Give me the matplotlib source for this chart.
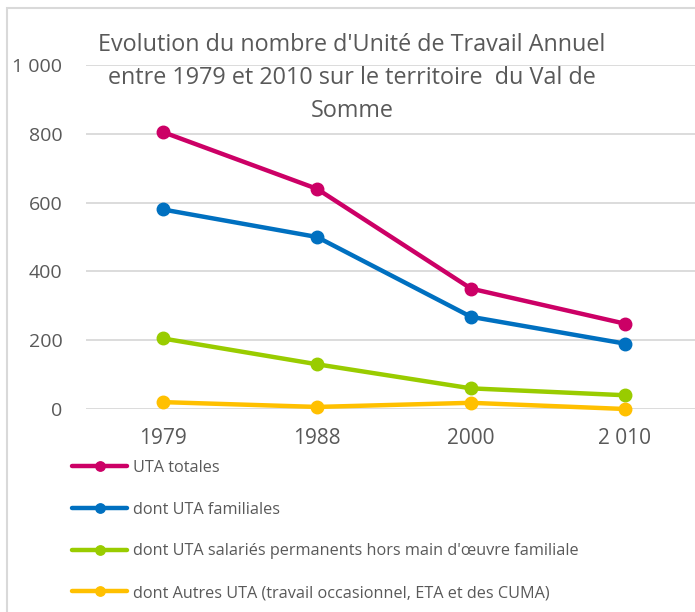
import matplotlib.pyplot as plt
from matplotlib.patches import Rectangle
from matplotlib.ticker import FuncFormatter

plt.rcParams['font.family'] = ['Open Sans', 'DejaVu Sans']

# data
years = ['1979', '1988', '2000', '2 010']
uta_totales = [805, 640, 350, 248]
uta_familiales = [580, 500, 268, 190]
uta_salaries = [205, 130, 60, 40]
uta_autres = [20, 6, 18, 0]

labels = ['UTA totales',
          'dont UTA familiales',
          "dont UTA salariés permanents hors main d'œuvre familiale",
          'dont Autres UTA (travail occasionnel, ETA et des CUMA)']
colors = ['#CC0066', '#0070C0', '#99CC00', '#FFC000']
series = [uta_totales, uta_familiales, uta_salaries, uta_autres]

W, H = 695, 612
fig = plt.figure(figsize=(W / 100, H / 100), dpi=100)

# chart frame (cropped on the right like the original)
fig.patches.append(Rectangle((7 / W, -0.1), 1.2, (H - 8) / H + 0.1,
                             transform=fig.transFigure, fill=False,
                             edgecolor='#D9D9D9', linewidth=1.5))

ax = fig.add_axes([86 / W, (H - 409) / H, 616 / W, 344 / H])
x = range(len(years))
for vals, lab, col in zip(series, labels, colors):
    ax.plot(x, vals, color=col, linewidth=3.2, marker='o', markersize=9,
            label=lab, solid_capstyle='round', clip_on=False)

ax.set_xlim(-0.5, len(years) - 0.5)
ax.set_ylim(0, 1000)
ax.set_yticks(range(0, 1001, 200))
ax.yaxis.set_major_formatter(FuncFormatter(lambda v, p: f'{int(v):,}'.replace(',', ' ')))
ax.set_xticks(list(x))
ax.set_xticklabels(years)
ax.grid(axis='y', color='#D9D9D9', linewidth=1.3)
ax.set_axisbelow(True)
for s in ax.spines.values():
    s.set_visible(False)
ax.tick_params(length=0, labelsize=14, labelcolor='#595959')
ax.tick_params(axis='x', labelsize=15, pad=14)
ax.tick_params(axis='y', pad=17)

fig.text(352 / W, 1 - 78 / H,
         "Evolution du nombre d'Unité de Travail Annuel\n"
         "entre 1979 et 2010 sur le territoire  du Val de\nSomme",
         ha='center', va='center', fontsize=16.8, color='#595959',
         linespacing=1.52)

fig.legend(loc='upper left', bbox_to_anchor=(72 / W, 1 - 460 / H),
           frameon=False, fontsize=11.7, labelcolor='#595959',
           handlelength=3.4, handletextpad=0.35, labelspacing=1.58,
           markerscale=0.75, borderaxespad=0, borderpad=0)

fig.savefig('out.png', dpi=100)
